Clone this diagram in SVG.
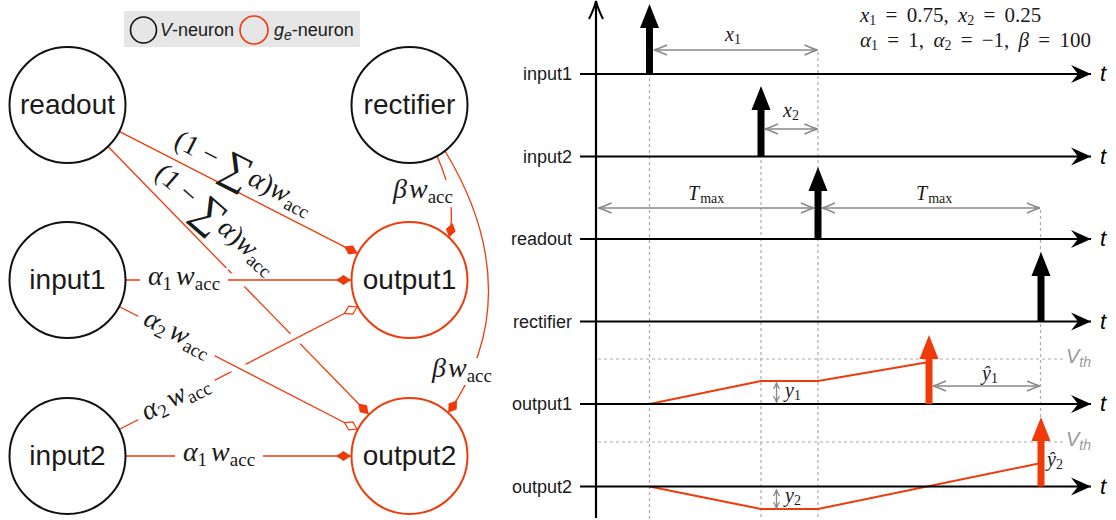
<svg xmlns="http://www.w3.org/2000/svg" width="1116" height="520" viewBox="0 0 1116 520">
<defs>
<marker id="df" viewBox="0 0 16 11" refX="16" refY="5.5" markerWidth="16" markerHeight="11" markerUnits="userSpaceOnUse" orient="auto"><path d="M0.5,5.5 L8,0.5 L15.5,5.5 L8,10.5Z" fill="#f03a0a"/></marker>
<marker id="do" viewBox="0 0 16 11" refX="16" refY="5.5" markerWidth="16" markerHeight="11" markerUnits="userSpaceOnUse" orient="auto"><path d="M1,5.5 L8,1 L15,5.5 L8,10Z" fill="#fff" stroke="#f03a0a" stroke-width="1.2"/></marker>
<marker id="ax" viewBox="-21 -10 22 20" refX="0" refY="0" markerWidth="22" markerHeight="20" markerUnits="userSpaceOnUse" orient="auto"><path d="M0,0 L-20,-9 L-13,0 L-20,9Z" fill="#000"/></marker>
<marker id="ga" viewBox="-15 -7 16 14" refX="0" refY="0" markerWidth="16" markerHeight="14" markerUnits="userSpaceOnUse" orient="auto-start-reverse"><path d="M-13,-5 Q-4,-1 0,0 Q-4,1 -13,5" fill="none" stroke="#888" stroke-width="1.5"/></marker>
<marker id="gs" viewBox="-8 -5 9 10" refX="0" refY="0" markerWidth="9" markerHeight="10" markerUnits="userSpaceOnUse" orient="auto-start-reverse"><path d="M-6,-3 Q-2,-0.6 0,0 Q-2,0.6 -6,3" fill="none" stroke="#888" stroke-width="1.3"/></marker>
</defs>
<style>
.n{fill:#fff;stroke:#111;stroke-width:2}
.r{fill:#fff;stroke:#f03a0a;stroke-width:2}
.nt{font-family:"Liberation Sans",Arial,sans-serif;font-size:28px;text-anchor:middle;fill:#1a1a1a}
.e{fill:none;stroke:#f03a0a;stroke-width:1.3}
.halo{fill:none;stroke:#fff;stroke-width:13}
.m{font-family:"Liberation Serif","DejaVu Serif",serif;font-size:28px;fill:#1a1a1a}
.i{font-style:italic}
.s{font-size:19px}
.bg{fill:#fff}
.ax{stroke:#000;stroke-width:2.2;fill:none}
.al{font-family:"Liberation Sans",Arial,sans-serif;font-size:18px;text-anchor:end;fill:#1a1a1a}
.t{font-family:"Liberation Sans",Arial,sans-serif;font-style:italic;font-size:22px;fill:#000}
.dash{stroke:#aaa;stroke-width:1.2;stroke-dasharray:3 3;fill:none}
.dim{stroke:#888;stroke-width:1.5;fill:none;marker-start:url(#ga);marker-end:url(#ga)}
.dims{stroke:#888;stroke-width:1.3;fill:none;marker-start:url(#gs);marker-end:url(#gs)}
.mm{font-family:"Liberation Serif","DejaVu Serif",serif;font-size:20px;fill:#1a1a1a}
.tr{font-family:"Liberation Serif","DejaVu Serif",serif;font-size:21px;fill:#1a1a1a;word-spacing:4px}
.sub{font-size:14px}
.trace{fill:none;stroke:#f03a0a;stroke-width:2}
.spk{fill:#000}
.spr{fill:#f03a0a}
.vth{font-family:"Liberation Sans",Arial,sans-serif;font-style:italic;font-size:20px;fill:#9a9a9a}
.lg{font-family:"Liberation Sans",Arial,sans-serif;font-size:18px;fill:#1a1a1a}
</style>
<rect width="1116" height="520" fill="#fff"/>

<g id="legend">
<rect x="124" y="11" width="236" height="36" fill="#e6e6e6"/>
<circle cx="143.5" cy="30" r="13" fill="none" stroke="#111" stroke-width="1.6"/>
<text class="lg" x="160" y="36"><tspan class="i">V</tspan>-neuron</text>
<circle cx="254" cy="30" r="14" fill="none" stroke="#f03a0a" stroke-width="1.6"/>
<text class="lg" x="274" y="36"><tspan class="i">g</tspan><tspan class="i" font-size="14" dy="4">e</tspan><tspan dy="-4">-neuron</tspan></text>
</g>

<g id="connectors">
<path class="e" d="M119.1,131.4 L357.9,253.6" marker-end="url(#df)"/>
<path class="e" d="M108,146.5 L369,414.5" marker-end="url(#df)"/>
<path class="halo" d="M132,280 H345"/>
<path class="e" d="M125.5,280 H351.5" marker-end="url(#df)"/>
<path class="halo" d="M126,426 L350,310.5"/>
<path class="e" d="M119.1,429.5 L357.9,306.5" marker-end="url(#do)"/>
<path class="halo" d="M126,310 L350,425.5"/>
<path class="e" d="M119.1,306.5 L357.9,429.5" marker-end="url(#do)"/>
<path class="e" d="M125.5,456 H351.5" marker-end="url(#df)"/>
<path class="e" d="M437,156 C450,185 455,212 449,238" marker-end="url(#df)"/>
<path class="e" d="M445,151 C505,250 500,340 448,413" marker-end="url(#df)"/>

<g id="lbl-a">
<rect class="bg" x="140" y="268" width="88" height="26"/>
<text class="m" x="184" y="285" text-anchor="middle"><tspan class="i">α</tspan><tspan class="s" dy="5">1</tspan><tspan class="i" dy="-5" dx="4">w</tspan><tspan class="s" dy="5">acc</tspan></text>
</g>
<g id="lbl-b">
<rect class="bg" x="175" y="444" width="88" height="26"/>
<text class="m" x="219" y="461" text-anchor="middle"><tspan class="i">α</tspan><tspan class="s" dy="5">1</tspan><tspan class="i" dy="-5" dx="4">w</tspan><tspan class="s" dy="5">acc</tspan></text>
</g>
<g id="lbl-c" transform="translate(176.5,336) rotate(27.23)">
<rect class="bg" x="-43" y="-13" width="86" height="26"/>
<text class="m" x="0" y="5" text-anchor="middle"><tspan class="i">α</tspan><tspan class="s" dy="5">2</tspan><tspan class="i" dy="-5" dx="4">w</tspan><tspan class="s" dy="5">acc</tspan></text>
</g>
<g id="lbl-d" transform="translate(176.5,400) rotate(-27.23)">
<rect class="bg" x="-43" y="-13" width="86" height="26"/>
<text class="m" x="0" y="5" text-anchor="middle"><tspan class="i">α</tspan><tspan class="s" dy="5">2</tspan><tspan class="i" dy="-5" dx="4">w</tspan><tspan class="s" dy="5">acc</tspan></text>
</g>
<g id="lbl-e" transform="translate(172.6,146.1) rotate(27)">
<text class="m" x="0" y="0">(1 − <tspan font-size="42" dy="5">∑</tspan><tspan class="i" dy="-5">α</tspan>)<tspan class="i">w</tspan><tspan class="s" dy="5">acc</tspan></text>
</g>
<g id="lbl-f" transform="translate(153.5,175.8) rotate(41)">
<text class="m" x="0" y="0">(1 − <tspan font-size="42" dy="5">∑</tspan><tspan class="i" dy="-5">α</tspan>)<tspan class="i">w</tspan><tspan class="s" dy="5">acc</tspan></text>
</g>
<g id="lbl-g">
<rect class="bg" x="391" y="180" width="66" height="27"/>
<text class="m" x="393" y="198"><tspan class="i">β</tspan><tspan class="i" dx="2">w</tspan><tspan class="s" dy="5">acc</tspan></text>
</g>
<g id="lbl-h">
<rect class="bg" x="430" y="358" width="68" height="27"/>
<text class="m" x="432" y="377"><tspan class="i">β</tspan><tspan class="i" dx="2">w</tspan><tspan class="s" dy="5">acc</tspan></text>
</g>
</g>

<g id="readout"><circle class="n" cx="67.5" cy="105" r="58"/><text class="nt" x="67.5" y="114">readout</text></g>
<g id="input1"><circle class="n" cx="67.5" cy="280" r="58"/><text class="nt" x="67.5" y="289">input1</text></g>
<g id="input2"><circle class="n" cx="67.5" cy="456" r="58"/><text class="nt" x="67.5" y="465">input2</text></g>
<g id="rectifier"><circle class="n" cx="409.5" cy="105" r="58"/><text class="nt" x="409.5" y="114">rectifier</text></g>
<g id="output1"><circle class="r" cx="409.5" cy="280" r="58"/><text class="nt" x="409.5" y="289">output1</text></g>
<g id="output2"><circle class="r" cx="409.5" cy="456" r="58"/><text class="nt" x="409.5" y="465">output2</text></g>

<g id="timing">
<path class="dash" d="M649.5,78 V520 M761,160 V520 M818,52 V520 M1040.5,210 V417"/>
<path class="dash" d="M598,359 H1063 M598,442 H1063"/>
<path class="trace" d="M649.5,404 L761,381 L818,381 L929,362"/>
<path class="trace" d="M649.5,486.5 L761,509 L818,509 L1041,463"/>
<path class="ax" d="M596,518 V2"/>
<path d="M589,19 Q594,9 596,1 Q598,9 603,19" fill="none" stroke="#000" stroke-width="2"/>
<path class="ax" d="M580,74 H1091" marker-end="url(#ax)"/>
<path class="ax" d="M580,156.5 H1091" marker-end="url(#ax)"/>
<path class="ax" d="M580,239 H1091" marker-end="url(#ax)"/>
<path class="ax" d="M580,321.5 H1091" marker-end="url(#ax)"/>
<path class="ax" d="M580,404 H1091" marker-end="url(#ax)"/>
<path class="ax" d="M580,486.5 H1091" marker-end="url(#ax)"/>
<text class="al" x="572" y="80">input1</text>
<text class="al" x="572" y="162.5">input2</text>
<text class="al" x="572" y="245">readout</text>
<text class="al" x="572" y="327.5">rectifier</text>
<text class="al" x="572" y="410">output1</text>
<text class="al" x="572" y="492.5">output2</text>
<text class="t" x="1100" y="81">t</text>
<text class="t" x="1100" y="163.5">t</text>
<text class="t" x="1100" y="246">t</text>
<text class="t" x="1100" y="328.5">t</text>
<text class="t" x="1100" y="411">t</text>
<text class="t" x="1100" y="493.5">t</text>
<path class="spk" d="M646,74 V28 H640 L649.5,4 L659,28 H653 V74Z"/>
<path class="spk" d="M757.5,156.5 V110 H751.5 L761,86 L770.5,110 H764.5 V156.5Z"/>
<path class="spk" d="M814.5,239 V191 H808.5 L818,167 L827.5,191 H821.5 V239Z"/>
<path class="spk" d="M1037.5,321.5 V276 H1031.5 L1041,252 L1050.5,276 H1044.5 V321.5Z"/>
<path class="spr" d="M925.5,404 V359 H919.5 L929,335 L938.5,359 H932.5 V404Z"/>
<path class="spr" d="M1037.5,486.5 V441 H1031.5 L1041,417 L1050.5,441 H1044.5 V486.5Z"/>
<path class="dim" d="M654,50 H817.5"/>
<path class="dim" d="M765,129 H817.5"/>
<path class="dim" d="M598.5,208 H814"/>
<path class="dim" d="M822,208 H1040"/>
<path class="dim" d="M933,386 H1040"/>
<path class="dims" d="M776.5,383 V402"/>
<path class="dims" d="M776.5,490 V508"/>
<text class="mm" x="725" y="41"><tspan class="i">x</tspan><tspan class="sub" dy="3">1</tspan></text>
<text class="mm" x="783" y="117"><tspan class="i">x</tspan><tspan class="sub" dy="3">2</tspan></text>
<text class="mm" x="688" y="200"><tspan class="i">T</tspan><tspan class="sub" dy="3" dx="1">max</tspan></text>
<text class="mm" x="916" y="200"><tspan class="i">T</tspan><tspan class="sub" dy="3" dx="1">max</tspan></text>
<text class="mm" x="982" y="380"><tspan class="i">ŷ</tspan><tspan class="sub" dy="3">1</tspan></text>
<text class="mm" x="1047" y="466"><tspan class="i">ŷ</tspan><tspan class="sub" dy="3">2</tspan></text>
<text class="mm" x="785" y="397"><tspan class="i">y</tspan><tspan class="sub" dy="3">1</tspan></text>
<text class="mm" x="785" y="502"><tspan class="i">y</tspan><tspan class="sub" dy="3">2</tspan></text>
<text class="tr" x="860" y="22"><tspan class="i">x</tspan><tspan class="sub" dy="3">1</tspan><tspan dy="-3"> = 0.75, </tspan><tspan class="i">x</tspan><tspan class="sub" dy="3">2</tspan><tspan dy="-3"> = 0.25</tspan></text>
<text class="tr" x="860" y="47"><tspan class="i">α</tspan><tspan class="sub" dy="3">1</tspan><tspan dy="-3"> = 1, </tspan><tspan class="i">α</tspan><tspan class="sub" dy="3">2</tspan><tspan dy="-3"> = −1, </tspan><tspan class="i">β</tspan> = 100</text>
<text class="vth" x="1066" y="363">V<tspan font-size="14" dy="4">th</tspan></text>
<text class="vth" x="1066" y="446">V<tspan font-size="14" dy="4">th</tspan></text>
</g>
</svg>
